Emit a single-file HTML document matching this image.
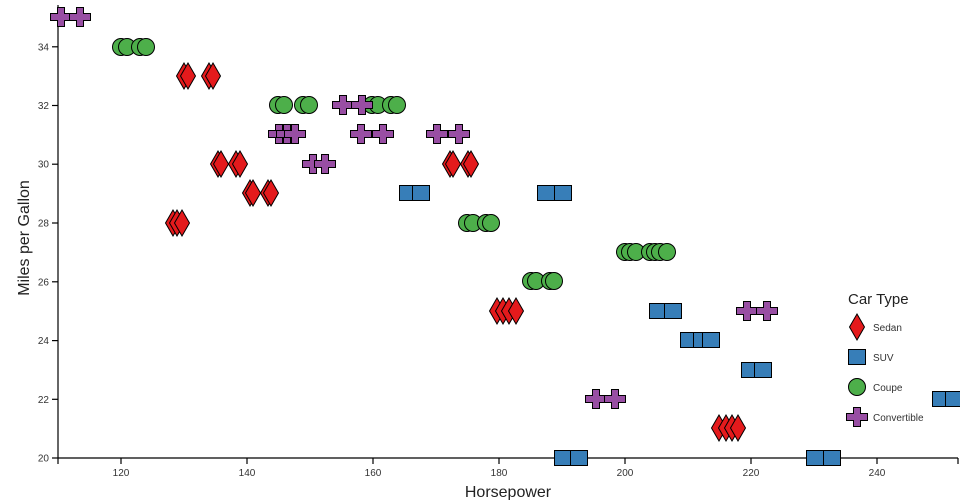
<!DOCTYPE html>
<html><head><meta charset="utf-8"><style>
html,body{margin:0;padding:0;background:#fff;overflow:hidden;}
svg{display:block;font-family:"Liberation Sans","DejaVu Sans",sans-serif;}
.t{font-size:10px;fill:#333;}
</style></head><body>
<svg width="960" height="500" viewBox="0 0 960 500" xmlns="http://www.w3.org/2000/svg">
<defs>
<symbol id="sedan" overflow="visible"><path d="M0,-13 L7.5,0 L0,13 L-7.5,0Z" fill="#e41a1c" stroke="#000" stroke-width="1"/></symbol>
<symbol id="suv" overflow="visible"><rect x="-8.5" y="-7.5" width="17" height="15" fill="#377eb8" stroke="#000" stroke-width="1"/></symbol>
<symbol id="coupe" overflow="visible"><circle r="8.5" fill="#4daf4a" stroke="#000" stroke-width="1"/></symbol>
<symbol id="conv" overflow="visible"><path d="M-3.5,-9.5 H3.5 V-3.5 H10.5 V3.5 H3.5 V9.5 H-3.5 V3.5 H-10.5 V-3.5 H-3.5Z" fill="#984ea3" stroke="#000" stroke-width="1"/></symbol>
</defs>
<g stroke="#000" stroke-width="1.2" fill="none">
<line x1="58" y1="5" x2="58" y2="458"/>
<line x1="58" y1="458" x2="958" y2="458"/>
<line x1="58" y1="458" x2="58" y2="464"/>
<line x1="958" y1="458" x2="958" y2="464"/>
<line x1="121" y1="458" x2="121" y2="464"/>
<line x1="247" y1="458" x2="247" y2="464"/>
<line x1="373" y1="458" x2="373" y2="464"/>
<line x1="499" y1="458" x2="499" y2="464"/>
<line x1="625" y1="458" x2="625" y2="464"/>
<line x1="751" y1="458" x2="751" y2="464"/>
<line x1="877" y1="458" x2="877" y2="464"/>
<line x1="52" y1="458" x2="58" y2="458"/>
<line x1="52" y1="399.3" x2="58" y2="399.3"/>
<line x1="52" y1="340.6" x2="58" y2="340.6"/>
<line x1="52" y1="281.8" x2="58" y2="281.8"/>
<line x1="52" y1="223" x2="58" y2="223"/>
<line x1="52" y1="164.2" x2="58" y2="164.2"/>
<line x1="52" y1="105.5" x2="58" y2="105.5"/>
<line x1="52" y1="46.8" x2="58" y2="46.8"/>
</g>
<g class="t" text-anchor="middle">
<text x="121" y="476">120</text><text x="247" y="476">140</text><text x="373" y="476">160</text>
<text x="499" y="476">180</text><text x="625" y="476">200</text><text x="751" y="476">220</text><text x="877" y="476">240</text>
</g>
<g class="t" text-anchor="end">
<text x="49" y="461.5">20</text><text x="49" y="402.8">22</text><text x="49" y="344">24</text>
<text x="49" y="285.3">26</text><text x="49" y="226.5">28</text><text x="49" y="167.7">30</text>
<text x="49" y="109">32</text><text x="49" y="50.3">34</text>
</g>
<text x="508" y="497" text-anchor="middle" font-size="16" fill="#222">Horsepower</text>
<text transform="translate(29,238) rotate(-90)" text-anchor="middle" font-size="16" fill="#222">Miles per Gallon</text>

<g>
<use href="#sedan" x="184" y="76"/><use href="#sedan" x="188" y="76"/><use href="#sedan" x="209" y="76"/><use href="#sedan" x="213" y="76"/>
<use href="#sedan" x="218" y="164"/><use href="#sedan" x="221" y="164"/><use href="#sedan" x="236" y="164"/><use href="#sedan" x="240" y="164"/>
<use href="#sedan" x="450" y="164"/><use href="#sedan" x="453" y="164"/><use href="#sedan" x="468" y="164"/><use href="#sedan" x="471" y="164"/>
<use href="#sedan" x="250" y="193"/><use href="#sedan" x="253" y="193"/><use href="#sedan" x="268" y="193"/><use href="#sedan" x="271" y="193"/>
<use href="#sedan" x="173" y="223"/><use href="#sedan" x="177" y="223"/><use href="#sedan" x="182" y="223"/>
<use href="#sedan" x="497" y="311"/><use href="#sedan" x="503" y="311"/><use href="#sedan" x="509" y="311"/><use href="#sedan" x="516" y="311"/>
<use href="#sedan" x="719" y="428"/><use href="#sedan" x="726" y="428"/><use href="#sedan" x="732" y="428"/><use href="#sedan" x="738" y="428"/>
</g>
<g>
<use href="#suv" x="408" y="193"/><use href="#suv" x="421" y="193"/>
<use href="#suv" x="546" y="193"/><use href="#suv" x="563" y="193"/>
<use href="#suv" x="658" y="311"/><use href="#suv" x="673" y="311"/>
<use href="#suv" x="689" y="340"/><use href="#suv" x="702" y="340"/><use href="#suv" x="711" y="340"/>
<use href="#suv" x="750" y="370"/><use href="#suv" x="763" y="370"/>
<use href="#suv" x="941" y="399"/><use href="#suv" x="954" y="399"/>
<use href="#suv" x="563" y="458"/><use href="#suv" x="579" y="458"/>
<use href="#suv" x="815" y="458"/><use href="#suv" x="832" y="458"/>
</g>
<g>
<use href="#coupe" x="121" y="47"/><use href="#coupe" x="127" y="47"/><use href="#coupe" x="140" y="47"/><use href="#coupe" x="146" y="47"/>
<use href="#coupe" x="278" y="105"/><use href="#coupe" x="284" y="105"/><use href="#coupe" x="303" y="105"/><use href="#coupe" x="309" y="105"/>
<use href="#coupe" x="372" y="105"/><use href="#coupe" x="378" y="105"/><use href="#coupe" x="391" y="105"/><use href="#coupe" x="397" y="105"/>
<use href="#coupe" x="467" y="223"/><use href="#coupe" x="473" y="223"/><use href="#coupe" x="486" y="223"/><use href="#coupe" x="491" y="223"/>
<use href="#coupe" x="625" y="252"/><use href="#coupe" x="630" y="252"/><use href="#coupe" x="636" y="252"/><use href="#coupe" x="650" y="252"/><use href="#coupe" x="655" y="252"/><use href="#coupe" x="660" y="252"/><use href="#coupe" x="667" y="252"/>
<use href="#coupe" x="531" y="281"/><use href="#coupe" x="536" y="281"/><use href="#coupe" x="550" y="281"/><use href="#coupe" x="554" y="281"/>
</g>
<g>
<use href="#conv" x="61" y="17"/><use href="#conv" x="80" y="17"/>
<use href="#conv" x="343" y="105"/><use href="#conv" x="362" y="105"/>
<use href="#conv" x="279" y="134"/><use href="#conv" x="287" y="134"/><use href="#conv" x="295" y="134"/>
<use href="#conv" x="361" y="134"/><use href="#conv" x="383" y="134"/>
<use href="#conv" x="437" y="134"/><use href="#conv" x="459" y="134"/>
<use href="#conv" x="313" y="164"/><use href="#conv" x="325" y="164"/>
<use href="#conv" x="747" y="311"/><use href="#conv" x="767" y="311"/>
<use href="#conv" x="596" y="399"/><use href="#conv" x="615" y="399"/>
</g>
<text x="848" y="304" font-size="15" fill="#222">Car Type</text>
<use href="#sedan" x="857" y="327"/><text x="873" y="331" class="t">Sedan</text>
<use href="#suv" x="857" y="357"/><text x="873" y="361" class="t">SUV</text>
<use href="#coupe" x="857" y="387"/><text x="873" y="391" class="t">Coupe</text>
<use href="#conv" x="857" y="417"/><text x="873" y="421" class="t">Convertible</text>
</svg>
</body></html>
